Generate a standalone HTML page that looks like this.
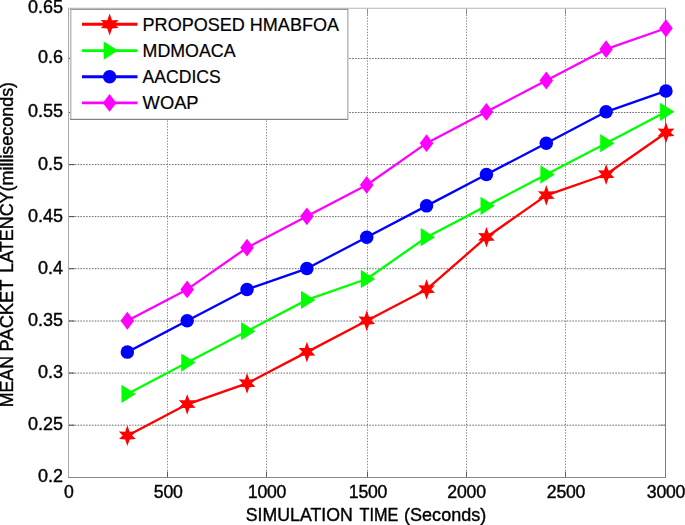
<!DOCTYPE html>
<html><head><meta charset="utf-8"><title>Mean Packet Latency</title>
<style>html,body{margin:0;padding:0;background:#fff;}svg{display:block;}text{font-family:"Liberation Sans",sans-serif;font-size:18.0px;fill:#000;stroke:#000;stroke-width:0.4px;}</style></head><body>
<svg width="685" height="525" viewBox="0 0 685 525">
<rect x="0" y="0" width="685" height="525" fill="#fff"/>
<g stroke="#4a4a4a" stroke-width="1" stroke-dasharray="1 1.86" fill="none">
<line x1="167.5" y1="9.0" x2="167.5" y2="477.5" stroke="#858585" stroke-dasharray="1.3 1.56"/>
<line x1="266.5" y1="9.0" x2="266.5" y2="477.5" stroke="#858585" stroke-dasharray="1.3 1.56"/>
<line x1="367.5" y1="9.0" x2="367.5" y2="477.5" stroke="#858585" stroke-dasharray="1.3 1.56"/>
<line x1="466.5" y1="9.0" x2="466.5" y2="477.5" stroke="#858585" stroke-dasharray="1.3 1.56"/>
<line x1="565.5" y1="9.0" x2="565.5" y2="477.5" stroke="#858585" stroke-dasharray="1.3 1.56"/>
<line x1="69.0" y1="425.2" x2="665.5" y2="425.2" stroke="#6c6c6c" stroke-dasharray="1.6 1.26"/>
<line x1="69.0" y1="373.1" x2="665.5" y2="373.1" stroke="#6c6c6c" stroke-dasharray="1.6 1.26"/>
<line x1="69.0" y1="321.0" x2="665.5" y2="321.0" stroke="#6c6c6c" stroke-dasharray="1.6 1.26"/>
<line x1="69.0" y1="268.7" x2="665.5" y2="268.7" stroke="#6c6c6c" stroke-dasharray="1.6 1.26"/>
<line x1="69.0" y1="216.6" x2="665.5" y2="216.6" stroke="#6c6c6c" stroke-dasharray="1.6 1.26"/>
<line x1="69.0" y1="164.6" x2="665.5" y2="164.6" stroke="#6c6c6c" stroke-dasharray="1.6 1.26"/>
<line x1="69.0" y1="112.5" x2="665.5" y2="112.5" stroke="#6c6c6c" stroke-dasharray="1.6 1.26"/>
<line x1="69.0" y1="58.5" x2="665.5" y2="58.5" stroke="#6c6c6c" stroke-dasharray="1.6 1.26"/>
</g>
<g stroke="#777" stroke-width="1" fill="none">
<line x1="167.5" y1="477.5" x2="167.5" y2="471.5" stroke="#5e5e5e"/><line x1="167.5" y1="8.5" x2="167.5" y2="14.5" stroke="#8c8c8c"/>
<line x1="266.5" y1="477.5" x2="266.5" y2="471.5" stroke="#5e5e5e"/><line x1="266.5" y1="8.5" x2="266.5" y2="14.5" stroke="#8c8c8c"/>
<line x1="367.5" y1="477.5" x2="367.5" y2="471.5" stroke="#5e5e5e"/><line x1="367.5" y1="8.5" x2="367.5" y2="14.5" stroke="#8c8c8c"/>
<line x1="466.5" y1="477.5" x2="466.5" y2="471.5" stroke="#5e5e5e"/><line x1="466.5" y1="8.5" x2="466.5" y2="14.5" stroke="#8c8c8c"/>
<line x1="565.5" y1="477.5" x2="565.5" y2="471.5" stroke="#5e5e5e"/><line x1="565.5" y1="8.5" x2="565.5" y2="14.5" stroke="#8c8c8c"/>
<line x1="68.5" y1="425.2" x2="74.5" y2="425.2" stroke="#4c4c4c"/><line x1="665.5" y1="425.2" x2="659.5" y2="425.2" stroke="#8a8a8a"/>
<line x1="68.5" y1="373.1" x2="74.5" y2="373.1" stroke="#4c4c4c"/><line x1="665.5" y1="373.1" x2="659.5" y2="373.1" stroke="#8a8a8a"/>
<line x1="68.5" y1="321.0" x2="74.5" y2="321.0" stroke="#4c4c4c"/><line x1="665.5" y1="321.0" x2="659.5" y2="321.0" stroke="#8a8a8a"/>
<line x1="68.5" y1="268.7" x2="74.5" y2="268.7" stroke="#4c4c4c"/><line x1="665.5" y1="268.7" x2="659.5" y2="268.7" stroke="#8a8a8a"/>
<line x1="68.5" y1="216.6" x2="74.5" y2="216.6" stroke="#4c4c4c"/><line x1="665.5" y1="216.6" x2="659.5" y2="216.6" stroke="#8a8a8a"/>
<line x1="68.5" y1="164.6" x2="74.5" y2="164.6" stroke="#4c4c4c"/><line x1="665.5" y1="164.6" x2="659.5" y2="164.6" stroke="#8a8a8a"/>
<line x1="68.5" y1="112.5" x2="74.5" y2="112.5" stroke="#4c4c4c"/><line x1="665.5" y1="112.5" x2="659.5" y2="112.5" stroke="#8a8a8a"/>
<line x1="68.5" y1="58.5" x2="74.5" y2="58.5" stroke="#4c4c4c"/><line x1="665.5" y1="58.5" x2="659.5" y2="58.5" stroke="#8a8a8a"/>
</g>
<line x1="68.5" y1="8.5" x2="68.5" y2="477.5" stroke="#aaa" stroke-width="1"/>
<line x1="68.0" y1="8.25" x2="666.0" y2="8.25" stroke="#b4b4b4" stroke-width="1.1"/>
<line x1="68.0" y1="477.5" x2="666.0" y2="477.5" stroke="#888" stroke-width="1"/>
<line x1="665.5" y1="8.5" x2="665.5" y2="477.5" stroke="#7d7d7d" stroke-width="1"/>
<polyline points="127.34,435.68 187.18,404.34 247.03,383.45 306.88,352.11 366.73,320.77 426.57,289.43 486.42,237.20 546.27,195.41 606.11,174.52 665.96,132.74" fill="none" stroke="#ff0000" stroke-width="2.3" stroke-linejoin="round"/>
<polygon points="127.34,425.28 129.64,431.68 135.74,431.48 132.14,435.38 135.74,438.98 129.74,439.38 127.34,446.08 125.14,439.38 119.04,439.08 122.64,435.38 118.94,431.48 125.24,431.68" fill="#ff0000"/>
<polygon points="187.18,393.94 189.48,400.34 195.58,400.14 191.98,404.04 195.58,407.64 189.58,408.04 187.18,414.74 184.98,408.04 178.88,407.74 182.48,404.04 178.78,400.14 185.08,400.34" fill="#ff0000"/>
<polygon points="247.03,373.05 249.33,379.45 255.43,379.25 251.83,383.15 255.43,386.75 249.43,387.15 247.03,393.85 244.83,387.15 238.73,386.85 242.33,383.15 238.63,379.25 244.93,379.45" fill="#ff0000"/>
<polygon points="306.88,341.71 309.18,348.11 315.28,347.91 311.68,351.81 315.28,355.41 309.28,355.81 306.88,362.51 304.68,355.81 298.58,355.51 302.18,351.81 298.48,347.91 304.78,348.11" fill="#ff0000"/>
<polygon points="366.73,310.37 369.03,316.77 375.12,316.57 371.53,320.47 375.12,324.07 369.12,324.47 366.73,331.17 364.53,324.47 358.43,324.17 362.03,320.47 358.33,316.57 364.62,316.77" fill="#ff0000"/>
<polygon points="426.57,279.03 428.87,285.43 434.97,285.23 431.37,289.13 434.97,292.73 428.97,293.13 426.57,299.83 424.37,293.13 418.27,292.83 421.87,289.13 418.17,285.23 424.47,285.43" fill="#ff0000"/>
<polygon points="486.42,226.80 488.72,233.20 494.82,233.00 491.22,236.90 494.82,240.50 488.82,240.90 486.42,247.60 484.22,240.90 478.12,240.60 481.72,236.90 478.02,233.00 484.32,233.20" fill="#ff0000"/>
<polygon points="546.27,185.01 548.57,191.41 554.67,191.21 551.07,195.11 554.67,198.71 548.67,199.11 546.27,205.81 544.07,199.11 537.97,198.81 541.57,195.11 537.87,191.21 544.17,191.41" fill="#ff0000"/>
<polygon points="606.11,164.12 608.41,170.52 614.51,170.32 610.91,174.22 614.51,177.82 608.51,178.22 606.11,184.92 603.91,178.22 597.81,177.92 601.41,174.22 597.71,170.32 604.01,170.52" fill="#ff0000"/>
<polygon points="665.96,122.34 668.26,128.74 674.36,128.54 670.76,132.44 674.36,136.04 668.36,136.44 665.96,143.14 663.76,136.44 657.66,136.14 661.26,132.44 657.56,128.54 663.86,128.74" fill="#ff0000"/>
<polyline points="127.34,393.90 187.18,362.56 247.03,331.22 306.88,299.88 366.73,278.99 426.57,237.20 486.42,205.86 546.27,174.52 606.11,143.18 665.96,111.84" fill="none" stroke="#00ff00" stroke-width="2.3" stroke-linejoin="round"/>
<polygon points="121.44,384.75 121.44,403.05 135.84,393.90" fill="#00ff00"/>
<polygon points="181.28,353.41 181.28,371.71 195.68,362.56" fill="#00ff00"/>
<polygon points="241.13,322.07 241.13,340.37 255.53,331.22" fill="#00ff00"/>
<polygon points="300.98,290.73 300.98,309.03 315.38,299.88" fill="#00ff00"/>
<polygon points="360.83,269.84 360.83,288.14 375.23,278.99" fill="#00ff00"/>
<polygon points="420.67,228.05 420.67,246.35 435.07,237.20" fill="#00ff00"/>
<polygon points="480.52,196.71 480.52,215.01 494.92,205.86" fill="#00ff00"/>
<polygon points="540.37,165.37 540.37,183.67 554.77,174.52" fill="#00ff00"/>
<polygon points="600.21,134.03 600.21,152.33 614.61,143.18" fill="#00ff00"/>
<polygon points="660.06,102.69 660.06,120.99 674.46,111.84" fill="#00ff00"/>
<polyline points="127.34,352.11 187.18,320.77 247.03,289.43 306.88,268.54 366.73,237.20 426.57,205.86 486.42,174.52 546.27,143.18 606.11,111.84 665.96,90.95" fill="none" stroke="#0000ff" stroke-width="2.3" stroke-linejoin="round"/>
<circle cx="127.34" cy="352.11" r="6.75" fill="#0000ff"/>
<circle cx="187.18" cy="320.77" r="6.75" fill="#0000ff"/>
<circle cx="247.03" cy="289.43" r="6.75" fill="#0000ff"/>
<circle cx="306.88" cy="268.54" r="6.75" fill="#0000ff"/>
<circle cx="366.73" cy="237.20" r="6.75" fill="#0000ff"/>
<circle cx="426.57" cy="205.86" r="6.75" fill="#0000ff"/>
<circle cx="486.42" cy="174.52" r="6.75" fill="#0000ff"/>
<circle cx="546.27" cy="143.18" r="6.75" fill="#0000ff"/>
<circle cx="606.11" cy="111.84" r="6.75" fill="#0000ff"/>
<circle cx="665.96" cy="90.95" r="6.75" fill="#0000ff"/>
<polyline points="127.34,320.77 187.18,289.43 247.03,247.65 306.88,216.31 366.73,184.97 426.57,143.18 486.42,111.84 546.27,80.50 606.11,49.16 665.96,28.27" fill="none" stroke="#ff00ff" stroke-width="2.3" stroke-linejoin="round"/>
<polygon points="127.34,311.87 134.14,320.77 127.34,329.67 120.54,320.77" fill="#ff00ff"/>
<polygon points="187.18,280.53 193.98,289.43 187.18,298.33 180.38,289.43" fill="#ff00ff"/>
<polygon points="247.03,238.75 253.83,247.65 247.03,256.55 240.23,247.65" fill="#ff00ff"/>
<polygon points="306.88,207.41 313.68,216.31 306.88,225.21 300.08,216.31" fill="#ff00ff"/>
<polygon points="366.73,176.07 373.53,184.97 366.73,193.87 359.93,184.97" fill="#ff00ff"/>
<polygon points="426.57,134.28 433.37,143.18 426.57,152.08 419.77,143.18" fill="#ff00ff"/>
<polygon points="486.42,102.94 493.22,111.84 486.42,120.74 479.62,111.84" fill="#ff00ff"/>
<polygon points="546.27,71.60 553.07,80.50 546.27,89.40 539.47,80.50" fill="#ff00ff"/>
<polygon points="606.11,40.26 612.91,49.16 606.11,58.06 599.31,49.16" fill="#ff00ff"/>
<polygon points="665.96,19.37 672.76,28.27 665.96,37.17 659.16,28.27" fill="#ff00ff"/>
<rect x="70.5" y="9.3" width="277.3" height="110" fill="#fff" stroke="none"/>
<line x1="70.7" y1="9" x2="70.7" y2="119.7" stroke="#bdbdbd" stroke-width="1.6"/>
<line x1="347.8" y1="9" x2="347.8" y2="119.7" stroke="#bdbdbd" stroke-width="1.6"/>
<line x1="70" y1="9.4" x2="348.3" y2="9.4" stroke="#999" stroke-width="1.2"/>
<line x1="70" y1="119.3" x2="347.9" y2="119.3" stroke="#858585" stroke-width="1.2"/>
<line x1="82" y1="24.3" x2="137.5" y2="24.3" stroke="#ff0000" stroke-width="2.9"/>
<polygon points="109.60,13.48 112.04,20.26 118.50,20.05 114.69,24.18 118.50,28.00 112.14,28.42 109.60,35.52 107.27,28.42 100.80,28.10 104.62,24.18 100.70,20.05 107.37,20.26" fill="#ff0000"/>
<text x="142.6" y="31.0" textLength="196.4" lengthAdjust="spacingAndGlyphs" style="stroke-width:0.2px">PROPOSED HMABFOA</text>
<line x1="82" y1="50.6" x2="137.5" y2="50.6" stroke="#00ff00" stroke-width="2.9"/>
<polygon points="103.70,41.45 103.70,59.75 118.10,50.60" fill="#00ff00"/>
<text x="142.6" y="57.3" textLength="93.0" lengthAdjust="spacingAndGlyphs" style="stroke-width:0.2px">MDMOACA</text>
<line x1="82" y1="76.8" x2="137.5" y2="76.8" stroke="#0000ff" stroke-width="2.9"/>
<circle cx="109.60" cy="76.80" r="6.75" fill="#0000ff"/>
<text x="142.6" y="83.1" textLength="78.1" lengthAdjust="spacingAndGlyphs" style="stroke-width:0.2px">AACDICS</text>
<line x1="82" y1="102.9" x2="137.5" y2="102.9" stroke="#ff00ff" stroke-width="2.9"/>
<polygon points="109.60,94.00 116.40,102.90 109.60,111.80 102.80,102.90" fill="#ff00ff"/>
<text x="142.6" y="109.4" textLength="56.0" lengthAdjust="spacingAndGlyphs" style="stroke-width:0.2px">WOAP</text>
<g opacity="0.999">
<text x="68.8" y="498.3" text-anchor="middle" style="font-size:17.7px;letter-spacing:-0.22px">0</text>
<text x="168.3" y="498.3" text-anchor="middle" style="font-size:17.7px;letter-spacing:-0.22px">500</text>
<text x="267.0" y="498.3" text-anchor="middle" style="font-size:17.7px;letter-spacing:-0.22px">1000</text>
<text x="368.0" y="498.3" text-anchor="middle" style="font-size:17.7px;letter-spacing:-0.22px">1500</text>
<text x="466.6" y="498.3" text-anchor="middle" style="font-size:17.7px;letter-spacing:-0.22px">2000</text>
<text x="566.0" y="498.3" text-anchor="middle" style="font-size:17.7px;letter-spacing:-0.22px">2500</text>
<text x="666.0" y="498.3" text-anchor="middle" style="font-size:17.7px;letter-spacing:-0.22px">3000</text>
<text x="63" y="482.3" text-anchor="end">0.2</text>
<text x="63" y="430.1" text-anchor="end">0.25</text>
<text x="63" y="378.0" text-anchor="end">0.3</text>
<text x="63" y="325.9" text-anchor="end">0.35</text>
<text x="63" y="273.6" text-anchor="end">0.4</text>
<text x="63" y="221.5" text-anchor="end">0.45</text>
<text x="63" y="169.5" text-anchor="end">0.5</text>
<text x="63" y="117.4" text-anchor="end">0.55</text>
<text x="63" y="63.4" text-anchor="end">0.6</text>
<text x="63" y="13.3" text-anchor="end">0.65</text>
<text y="520.6" style="font-size:17.85px"><tspan x="245.8" textLength="106.9" lengthAdjust="spacingAndGlyphs">SIMULATION</tspan><tspan x="359.5" textLength="38.8" lengthAdjust="spacingAndGlyphs">TIME</tspan><tspan x="404.1" textLength="82.1" lengthAdjust="spacingAndGlyphs">(Seconds)</tspan></text>
<text transform="translate(13.1,407.3) rotate(-90)" textLength="51.3" lengthAdjust="spacingAndGlyphs">MEAN</text>
<text transform="translate(13.1,351.4) rotate(-90)" textLength="71.8" lengthAdjust="spacingAndGlyphs">PACKET</text>
<text transform="translate(13.1,272.8) rotate(-90)" textLength="190.9" lengthAdjust="spacingAndGlyphs">LATENCY(milliseconds)</text>
</g>
</svg></body></html>
